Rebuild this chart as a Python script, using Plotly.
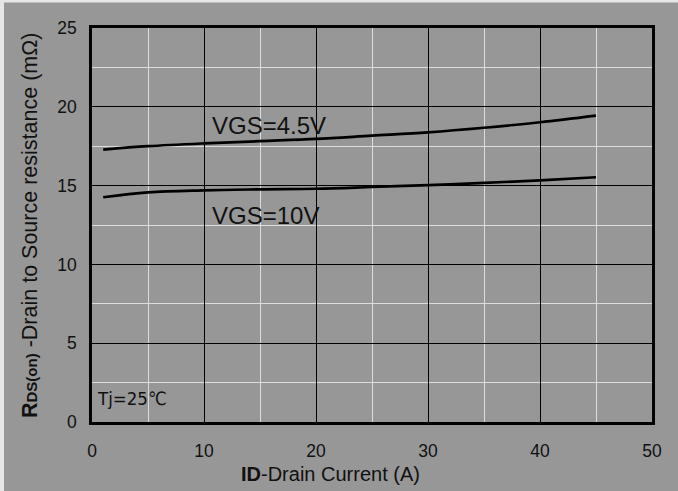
import plotly.graph_objects as go

# Data
id_current = [1, 5, 10, 15, 20, 25, 30, 35, 40, 45]
rds_vgs45 = [17.28, 17.50, 17.68, 17.82, 17.96, 18.17, 18.38, 18.67, 19.02, 19.44]
rds_vgs10 = [14.26, 14.57, 14.70, 14.76, 14.80, 14.91, 15.03, 15.17, 15.33, 15.53]

x_ticks = [0, 10, 20, 30, 40, 50]
y_ticks = [0, 5, 10, 15, 20, 25]

BG = "#979797"
FONT = "Liberation Sans, Arial, sans-serif"

W, H = 678, 491
l, r, t, b = 92, 26, 28, 69
pw, ph = W - l - r, H - t - b


def px(x):
    return (x - l) / pw


def py(y):
    return 1 - (y - t) / ph


fig = go.Figure()
fig.add_trace(go.Scatter(x=id_current, y=rds_vgs45, mode="lines",
                         line=dict(color="black", width=2.7, shape="spline"),
                         showlegend=False))
fig.add_trace(go.Scatter(x=id_current, y=rds_vgs10, mode="lines",
                         line=dict(color="black", width=2.7, shape="spline"),
                         showlegend=False))

fig.update_layout(
    width=W, height=H,
    margin=dict(l=l, r=r, t=t, b=b, autoexpand=False),
    paper_bgcolor=BG, plot_bgcolor=BG,
    font=dict(family=FONT, size=17, color="#111111"),
    xaxis=dict(range=[0, 50], tickvals=x_ticks, showgrid=True, gridcolor="black", gridwidth=1,
               minor=dict(dtick=5, showgrid=True, gridcolor="#dcdcdc", gridwidth=1),
               showline=True, linecolor="black", linewidth=2.5, mirror=True,
               zeroline=False, ticks="", ticklabelstandoff=11,
               tickfont=dict(size=17.5, family=FONT)),
    yaxis=dict(range=[0, 25], tickvals=y_ticks, showgrid=True, gridcolor="black", gridwidth=1,
               minor=dict(dtick=2.5, showgrid=True, gridcolor="#dcdcdc", gridwidth=1),
               showline=True, linecolor="black", linewidth=2.5, mirror=True,
               zeroline=False, ticks="", ticklabelstandoff=9,
               tickfont=dict(size=17.5, family=FONT)),
    annotations=[
        dict(x=px(210), y=py(125), xref="paper", yref="paper", text="VGS=4.5V", showarrow=False,
             xanchor="left", yanchor="middle", font=dict(size=24, family=FONT)),
        dict(x=px(210), y=py(215), xref="paper", yref="paper", text="VGS=10V", showarrow=False,
             xanchor="left", yanchor="middle", font=dict(size=24, family=FONT)),
        dict(x=px(95), y=py(398), xref="paper", yref="paper", text="Tj=25\u2103", showarrow=False,
             xanchor="left", yanchor="middle",
             font=dict(size=18.5, family="DejaVu Sans Condensed, DejaVu Sans")),
        dict(x=px(330), y=py(474), xref="paper", yref="paper",
             text="<b>ID</b>-Drain Current (A)", showarrow=False,
             xanchor="center", yanchor="middle", font=dict(size=20, family=FONT)),
        dict(x=px(30), y=py(226), xref="paper", yref="paper",
             text="<b>R</b><b><span style='font-size:15px'>DS(on)</span></b> -Drain to Source resistance (m\u03a9)",
             showarrow=False, textangle=-90,
             xanchor="center", yanchor="middle", font=dict(size=21.5, family=FONT)),
    ],
)

# light frame on left and top edges of the picture
fig.add_shape(type="line", xref="paper", yref="paper", x0=px(2), x1=px(2),
              y0=py(H), y1=py(0), line=dict(color="#e6e6e6", width=4))
fig.add_shape(type="line", xref="paper", yref="paper", x0=px(0), x1=px(W),
              y0=py(1), y1=py(1), line=dict(color="#e6e6e6", width=3))

fig.write_html("out.html", config={"displayModeBar": False},
               post_script="document.body.style.margin='0';document.body.style.padding='0';")
